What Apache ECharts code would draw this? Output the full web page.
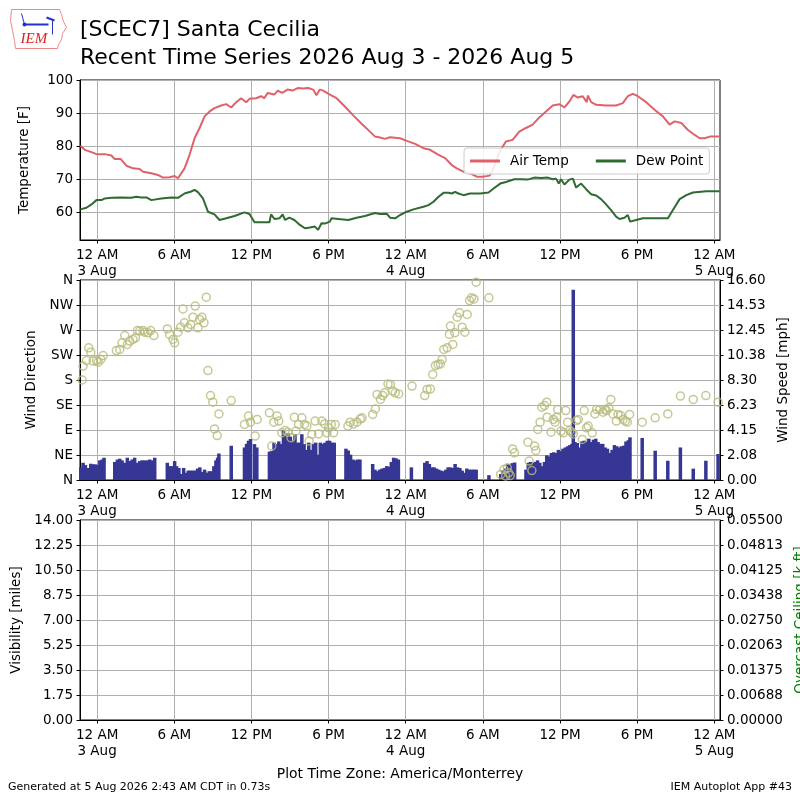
<!DOCTYPE html>
<html>
<head>
<meta charset="utf-8">
<script src="https://cdn.jsdelivr.net/npm/echarts@6/dist/echarts.min.js"></script>
<style>
html,body{margin:0;padding:0;background:#fff;}
#chart{width:800px;height:800px;}
</style>
</head>
<body>
<div id="chart"></div>
<script>
// Times are hours since 2026-08-03 00:00 (America/Monterrey)
const xTickHours = [0, 6, 12, 18, 24, 30, 36, 42, 48];
const tempTicks = [60, 70, 80, 90, 100];
const dirTickLabels = ['N', 'NE', 'E', 'SE', 'S', 'SW', 'W', 'NW', 'N'];
const windSpeedTicks = ['0.00', '2.08', '4.15', '6.23', '8.30', '10.38', '12.45', '14.53', '16.60'];
const visTicks = ['0.00', '1.75', '3.50', '5.25', '7.00', '8.75', '10.50', '12.25', '14.00'];
const ceilingTicks = ['0.00000', '0.00688', '0.01375', '0.02063', '0.02750', '0.03438', '0.04125', '0.04813', '0.05500'];

const airTemp = [
  [-1.3, 80.1], [-0.96, 78.9], [-0.44, 78.2], [-0.05, 77.6], [0.6, 77.6], [1.11, 77.2], [1.37, 76.1], [1.84, 76.1],
  [2.28, 74.1], [2.79, 73.3], [3.31, 73.1], [3.57, 72.3], [4.22, 71.8], [4.73, 71.3], [5.12, 70.5], [5.64, 70.6],
  [6.03, 71.0], [6.29, 70.3], [6.8, 73.3], [7.19, 77.4], [7.58, 82.4], [7.97, 85.5], [8.36, 89.0], [8.75, 90.5],
  [9.13, 91.5], [9.65, 92.3], [10.04, 92.7], [10.43, 91.7], [10.82, 93.3], [11.2, 94.5], [11.59, 93.3], [11.85, 94.3],
  [12.37, 94.5], [12.76, 95.1], [13.0, 94.5], [13.27, 96.1], [13.78, 95.6], [14.05, 96.8], [14.4, 96.1], [14.8, 97.1],
  [15.2, 96.8], [15.64, 97.6], [16.03, 97.4], [16.42, 97.6], [16.8, 97.1], [17.06, 95.4], [17.32, 97.1], [17.58, 96.8],
  [18.0, 95.8], [18.62, 94.5], [19.27, 92.0], [19.92, 89.3], [20.57, 86.8], [21.22, 84.4], [21.61, 82.9], [22.0, 82.6],
  [22.39, 82.2], [22.78, 82.7], [23.56, 82.4], [24.08, 81.6], [24.73, 80.7], [25.38, 79.4], [25.9, 78.9], [26.55, 77.4],
  [27.06, 76.4], [27.58, 74.3], [27.97, 73.3], [28.49, 72.3], [29.0, 71.8], [29.53, 70.8], [30.05, 70.8], [30.52, 71.1],
  [30.83, 73.3], [31.3, 78.3], [31.79, 81.4], [32.31, 81.9], [32.83, 84.4], [33.35, 85.5], [33.87, 86.5], [34.39, 88.7],
  [34.91, 90.5], [35.43, 92.3], [35.95, 92.7], [36.34, 91.7], [36.73, 93.5], [37.04, 95.5], [37.38, 94.7], [37.77, 95.1],
  [38.08, 93.3], [38.16, 95.3], [38.42, 93.3], [38.81, 92.5], [39.58, 92.3], [40.36, 92.3], [40.88, 93.0], [41.27, 95.1],
  [41.66, 95.8], [42.05, 95.1], [42.7, 93.3], [43.35, 91.0], [44.0, 89.0], [44.52, 86.5], [44.91, 87.5], [45.43, 87.0],
  [45.95, 84.9], [46.47, 83.4], [46.86, 82.4], [47.25, 82.4], [47.64, 82.9], [48.42, 82.9]
];

const dewPoint = [
  [-1.3, 60.9], [-0.83, 61.4], [-0.44, 62.4], [-0.05, 63.7], [0.34, 63.7], [0.6, 64.2], [1.11, 64.4], [1.89, 64.5],
  [2.66, 64.4], [3.05, 64.7], [3.44, 64.5], [3.83, 64.5], [4.22, 63.7], [4.99, 64.2], [5.77, 64.5], [6.29, 64.4],
  [6.8, 65.7], [7.32, 66.3], [7.58, 66.8], [7.84, 66.1], [8.23, 64.2], [8.62, 60.2], [9.13, 59.4], [9.52, 57.7],
  [10.04, 58.2], [10.69, 58.9], [11.46, 60.0], [11.85, 59.5], [12.24, 57.0], [12.76, 57.0], [13.4, 57.0], [13.53, 59.4],
  [13.79, 58.0], [14.18, 58.2], [14.43, 59.4], [14.62, 57.7], [14.95, 58.4], [15.34, 57.7], [15.77, 56.2], [16.16, 55.2],
  [16.55, 55.4], [16.94, 55.7], [17.19, 54.7], [17.45, 56.7], [17.71, 56.6], [18.1, 57.2], [18.23, 58.2], [18.75, 58.0],
  [19.53, 57.7], [20.18, 58.4], [20.83, 58.9], [21.61, 59.8], [22.0, 59.5], [22.52, 59.6], [22.78, 58.4], [23.17, 58.2],
  [23.56, 59.2], [24.08, 60.2], [24.6, 60.9], [25.38, 61.7], [25.77, 62.2], [26.16, 63.2], [26.55, 64.7], [26.94, 65.9],
  [27.32, 65.9], [27.58, 65.7], [27.84, 66.2], [28.1, 65.7], [28.49, 65.2], [29.0, 65.7], [29.79, 65.7], [30.44, 66.0],
  [30.83, 67.2], [31.35, 68.7], [31.79, 69.2], [32.44, 70.0], [32.96, 70.0], [33.48, 69.9], [34.0, 70.5], [34.52, 70.4],
  [35.04, 70.5], [35.43, 70.0], [35.69, 70.2], [35.9, 68.7], [36.08, 70.0], [36.34, 68.4], [36.73, 69.9], [37.0, 70.2],
  [37.25, 67.5], [37.64, 68.7], [38.03, 67.0], [38.42, 65.5], [38.81, 65.1], [39.19, 64.0], [39.58, 62.4], [39.97, 60.7],
  [40.36, 58.7], [40.62, 58.0], [41.01, 58.4], [41.27, 59.2], [41.45, 57.2], [41.92, 57.7], [42.44, 58.2], [43.22, 58.2],
  [44.39, 58.2], [44.78, 60.7], [45.3, 64.0], [45.82, 65.2], [46.34, 66.0], [47.38, 66.4], [48.42, 66.4]
];

const windDir = [
  [-1.16, 180], [-1.09, 205], [-0.83, 215], [-0.65, 238], [-0.49, 230], [-0.31, 214], [-0.05, 215], [0.08, 212],
  [0.28, 217], [0.47, 224], [1.5, 233], [1.76, 235], [1.94, 247], [2.15, 260], [2.35, 244], [2.54, 250], [2.79, 253],
  [2.98, 256], [3.13, 269], [3.31, 268], [3.57, 269], [3.7, 266], [3.96, 265], [4.17, 269], [4.42, 260], [5.46, 272],
  [5.64, 262], [5.9, 253], [6.03, 247], [6.29, 266], [6.49, 275], [6.68, 308], [6.8, 283], [7.06, 274], [7.27, 280],
  [7.45, 293], [7.63, 313], [7.84, 274], [7.97, 289], [8.15, 293], [8.31, 283], [8.49, 329], [8.62, 197], [8.82, 152],
  [9.0, 140], [9.13, 92], [9.34, 80], [9.47, 119], [10.43, 143], [11.46, 100], [11.77, 115], [11.93, 104], [12.29, 79],
  [12.45, 109], [13.4, 121], [13.58, 61], [13.74, 104], [14.0, 115], [14.13, 106], [14.36, 85], [14.62, 89], [14.83, 86],
  [15.08, 76], [15.34, 113], [15.47, 88], [15.66, 100], [15.92, 112], [16.13, 100], [16.31, 97], [16.49, 70], [16.7, 82],
  [16.96, 106], [17.22, 83], [17.48, 106], [17.69, 101], [17.87, 85], [18.0, 94], [18.21, 100], [18.39, 85], [18.52, 100],
  [19.5, 97], [19.68, 104], [19.94, 101], [20.21, 104], [20.47, 110], [20.6, 112], [21.43, 118], [21.64, 128], [21.77, 154],
  [22.03, 145], [22.21, 152], [22.36, 157], [22.62, 173], [22.81, 172], [22.99, 160], [23.19, 157], [23.45, 155],
  [24.49, 169], [25.48, 152], [25.66, 163], [25.92, 164], [26.1, 190], [26.31, 206], [26.52, 208], [26.7, 209],
  [26.83, 217], [26.96, 235], [27.22, 238], [27.4, 262], [27.48, 277], [27.66, 244], [27.82, 265], [28.0, 293],
  [28.18, 301], [28.39, 275], [28.6, 266], [28.78, 298], [28.96, 323], [29.12, 328], [29.3, 326], [29.48, 356],
  [30.47, 328], [31.38, 10], [31.64, 19], [31.77, 7], [31.9, 22], [32.0, 13], [32.13, 8], [32.31, 56], [32.46, 49],
  [33.5, 68], [33.6, 34], [33.81, 17], [34.02, 61], [34.12, 53], [34.27, 91], [34.45, 104], [34.58, 131], [34.79, 134],
  [34.97, 140], [35.0, 113], [35.3, 86], [35.48, 109], [35.61, 104], [35.74, 113], [35.82, 127], [36.08, 88], [36.26, 85],
  [36.44, 125], [36.59, 104], [36.77, 89], [36.9, 86], [37.03, 83], [37.29, 107], [37.42, 109], [37.73, 73], [37.88, 125],
  [38.06, 94], [38.19, 97], [38.5, 85], [38.71, 119], [38.84, 127], [39.09, 127], [39.35, 122], [39.48, 127], [39.61, 125],
  [39.79, 130], [39.95, 145], [40.12, 119], [40.38, 106], [40.51, 118], [40.72, 116], [40.9, 109], [41.08, 106],
  [41.23, 104], [41.41, 118], [42.39, 104], [43.4, 112], [44.38, 119], [45.36, 151], [46.36, 145], [47.34, 152], [48.29, 140]
];

const windSpeed = [
  [-1.27, 1.05], [-1.09, 1.43], [-0.91, 1.24], [-0.70, 1.0], [-0.49, 1.35], [-0.31, 1.3], [-0.13, 1.3], [0.03, 1.24],
  [0.21, 1.63], [0.39, 1.7], [0.54, 1.85],
  [1.37, 1.5], [1.58, 1.7], [1.76, 1.77], [1.94, 1.63], [2.15, 1.43], [2.35, 1.85], [2.54, 1.57], [2.72, 1.7], [2.92, 1.85],
  [3.13, 1.43], [3.31, 1.57], [3.49, 1.63], [3.7, 1.63], [3.91, 1.63], [4.09, 1.7], [4.27, 1.63], [4.48, 1.85],
  [5.46, 1.43], [5.64, 1.15], [5.82, 1.15], [6.03, 1.57], [6.18, 1.15], [6.36, 1.0], [6.55, 0.5], [6.73, 1.0], [6.91, 0.6],
  [7.09, 0.78], [7.27, 0.78], [7.45, 0.78], [7.63, 0.78], [7.81, 0.95], [7.99, 1.05], [8.18, 0.67], [8.36, 0.86],
  [8.54, 0.6], [8.72, 0.73], [8.9, 0.73], [9.08, 1.15], [9.24, 1.63], [9.37, 1.85], [9.47, 2.2],
  [10.43, 2.84],
  [11.46, 2.7], [11.62, 3.0], [11.77, 3.26], [11.93, 3.4],
  [12.24, 2.98], [12.42, 2.7],
  [13.4, 2.36], [13.58, 2.4], [13.76, 3.1], [13.95, 2.98], [14.13, 3.2], [14.31, 2.98], [14.49, 4.1], [14.67, 3.82],
  [14.85, 3.88], [15.03, 3.6], [15.21, 3.26], [15.39, 3.82], [15.57, 3.1], [15.75, 3.1], [15.92, 3.8], [16.1, 2.98],
  [16.28, 2.5], [16.46, 3.1], [16.64, 2.5], [16.82, 3.0], [17.0, 3.1], [17.18, 2.1], [17.36, 3.1], [17.54, 3.0],
  [17.72, 3.1], [17.9, 3.26], [18.08, 3.26], [18.26, 3.1], [18.44, 3.1],
  [19.35, 2.6], [19.53, 2.45], [19.71, 2.1], [19.9, 1.7], [20.08, 1.63], [20.26, 1.7], [20.44, 1.7],
  [21.43, 1.33], [21.61, 0.86], [21.79, 0.73], [21.97, 0.86], [22.16, 0.95], [22.34, 1.0], [22.52, 1.15], [22.7, 1.1],
  [22.88, 1.5], [23.06, 1.85], [23.25, 1.8], [23.43, 1.7],
  [24.44, 1.05],
  [25.48, 1.43], [25.66, 1.57], [25.84, 1.33], [26.03, 1.05], [26.21, 1.05], [26.39, 0.95], [26.57, 0.86], [26.75, 0.78],
  [26.94, 0.73], [27.12, 0.86], [27.3, 1.05], [27.48, 1.05], [27.66, 1.0], [27.84, 1.33], [28.03, 1.05], [28.21, 1.0],
  [28.39, 0.78], [28.57, 0.6], [28.75, 0.95], [28.94, 0.86], [29.12, 0.86], [29.3, 0.86], [29.48, 0.86],
  [30.47, 0.4],
  [31.39, 0.5], [31.57, 0.8], [31.75, 0.95], [31.93, 1.3], [32.11, 1.3], [32.29, 1.4], [32.47, 1.45],
  [33.35, 0.86], [33.53, 1.43], [33.71, 1.5], [33.89, 1.43], [34.07, 1.5], [34.25, 1.63], [34.43, 1.43], [34.61, 1.15],
  [34.79, 1.5], [34.97, 2.05], [35.15, 1.96], [35.33, 2.24], [35.51, 2.3], [35.69, 2.24], [35.87, 2.5], [36.05, 2.4],
  [36.23, 2.6], [36.41, 2.7], [36.59, 2.8], [36.77, 2.9], [36.93, 3.0], [37.03, 15.8], [37.16, 3.15], [37.34, 3.07],
  [37.52, 2.7], [37.7, 3.2], [37.88, 3.26], [38.06, 3.2], [38.24, 3.43], [38.42, 3.15], [38.6, 3.35], [38.78, 3.43],
  [38.96, 3.15], [39.14, 3.0], [39.32, 3.0], [39.51, 2.7], [39.69, 2.6], [39.87, 2.24], [40.05, 2.5], [40.23, 2.9],
  [40.41, 2.8], [40.59, 2.7], [40.77, 2.8], [40.95, 2.85], [41.13, 3.2], [41.31, 3.3], [41.44, 3.54],
  [42.39, 3.49], [43.4, 2.43], [44.38, 1.6], [45.36, 2.7], [46.36, 0.94], [47.34, 1.6], [48.29, 2.16]
];

const X_MIN = -1.33, X_MAX = 48.44;
const FONT = 'DejaVu Sans';
const FS = 13.5;

function xLabel(v) {
  const r = Math.round(v);
  const h = ((r % 24) + 24) % 24;
  const day = 3 + Math.floor(r / 24);
  if (h === 0) return '12 AM\n' + day + ' Aug';
  if (h === 6) return '6 AM';
  if (h === 12) return '12 PM';
  return '6 PM';
}

function makeX(gi, withName) {
  const ax = {
    type: 'value', gridIndex: gi, min: X_MIN, max: X_MAX,
    axisLine: { show: true, onZero: false, lineStyle: { color: '#000', width: 1 } },
    axisTick: { show: true, length: 3.5, customValues: xTickHours, lineStyle: { color: '#000' } },
    axisLabel: { customValues: xTickHours, formatter: xLabel, color: '#000', fontFamily: FONT, fontSize: FS, lineHeight: 16, margin: 7 },
    splitLine: { show: true, lineStyle: { color: '#b0b0b0', width: 1 } }
  };
  if (withName) {
    ax.name = 'Plot Time Zone: America/Monterrey';
    ax.nameLocation = 'middle';
    ax.nameGap = 47;
    ax.nameTextStyle = { color: '#000', fontFamily: FONT, fontSize: 13.9 };
  }
  return ax;
}

function makeY(extra) {
  return Object.assign({
    type: 'value',
    axisLine: { show: true, onZero: false, lineStyle: { color: '#000', width: 1 } },
    axisTick: { show: true, length: 3.5, lineStyle: { color: '#000' } },
    splitLine: { show: true, lineStyle: { color: '#b0b0b0', width: 1 } },
    nameLocation: 'middle',
    nameTextStyle: { color: '#000', fontFamily: FONT, fontSize: FS }
  }, extra);
}

const gridCommon = { left: 80, width: 640, show: true, borderColor: '#000', borderWidth: 1, backgroundColor: 'transparent', containLabel: false, outerBoundsMode: 'none' };

const chart = echarts.init(document.getElementById('chart'), null, { renderer: 'canvas' });

chart.setOption({
  animation: false,
  backgroundColor: '#fff',
  textStyle: { fontFamily: FONT },
  title: {
    text: '[SCEC7] Santa Cecilia\nRecent Time Series 2026 Aug 3 - 2026 Aug 5',
    left: 80, top: 17, padding: 0,
    textStyle: { fontFamily: FONT, fontSize: 22, fontWeight: 'normal', color: '#000', lineHeight: 27.5 }
  },
  legend: {
    data: ['Air Temp', 'Dew Point'],
    left: 464, top: 148,
    orient: 'horizontal',
    icon: 'rect',
    itemWidth: 30, itemHeight: 3, itemGap: 27,
    padding: [6, 6, 6, 6],
    backgroundColor: 'rgba(255,255,255,0.85)',
    borderColor: '#cccccc', borderWidth: 1, borderRadius: 3,
    textStyle: { fontFamily: FONT, fontSize: FS, color: '#000', padding: [0, 0, 0, 5] }
  },
  grid: [
    Object.assign({ top: 80, height: 160 }, gridCommon),
    Object.assign({ top: 280, height: 200 }, gridCommon),
    Object.assign({ top: 520, height: 200 }, gridCommon)
  ],
  xAxis: [makeX(0, false), makeX(1, false), makeX(2, true)],
  yAxis: [
    makeY({
      gridIndex: 0, min: 51.65, max: 100, name: 'Temperature [F]', nameGap: 49,
      axisTick: { show: true, length: 3.5, customValues: tempTicks, lineStyle: { color: '#000' } },
      axisLabel: { customValues: tempTicks, color: '#000', fontFamily: FONT, fontSize: FS, margin: 7 }
    }),
    makeY({
      gridIndex: 1, min: 0, max: 360, interval: 45, name: 'Wind Direction', nameGap: 41,
      axisLabel: { color: '#000', fontFamily: FONT, fontSize: FS, margin: 7,
        formatter: v => dirTickLabels[Math.round(v / 45)] }
    }),
    makeY({
      gridIndex: 1, position: 'right', min: 0, max: 16.6, interval: 2.075, name: 'Wind Speed [mph]', nameGap: 55, nameRotate: 90,
      splitLine: { show: false },
      axisLabel: { color: '#000', fontFamily: FONT, fontSize: FS, margin: 7,
        formatter: v => windSpeedTicks[Math.round(v / 2.075)] }
    }),
    makeY({
      gridIndex: 2, min: 0, max: 14, interval: 1.75, name: 'Visibility [miles]', nameGap: 49,
      axisLabel: { color: '#000', fontFamily: FONT, fontSize: FS, margin: 7,
        formatter: v => visTicks[Math.round(v / 1.75)] }
    }),
    makeY({
      gridIndex: 2, position: 'right', min: 0, max: 0.055, interval: 0.006875, name: 'Overcast Ceiling [k ft]', nameGap: 73, nameRotate: 90,
      nameTextStyle: { color: '#008000', fontFamily: FONT, fontSize: FS },
      splitLine: { show: false },
      axisLabel: { color: '#000', fontFamily: FONT, fontSize: FS, margin: 7,
        formatter: v => ceilingTicks[Math.round(v / 0.006875)] }
    })
  ],
  series: [
    {
      name: 'Air Temp', type: 'line', xAxisIndex: 0, yAxisIndex: 0, data: airTemp,
      showSymbol: false, symbol: 'none', clip: true,
      lineStyle: { color: '#e0616a', width: 2 }, itemStyle: { color: '#e0616a' }, z: 3
    },
    {
      name: 'Dew Point', type: 'line', xAxisIndex: 0, yAxisIndex: 0, data: dewPoint,
      showSymbol: false, symbol: 'none', clip: true,
      lineStyle: { color: '#2f6a31', width: 2 }, itemStyle: { color: '#2f6a31' }, z: 3
    },
    {
      name: 'Wind Speed', type: 'bar', xAxisIndex: 1, yAxisIndex: 2, data: windSpeed,
      barWidth: 3.5, large: false, itemStyle: { color: '#363694', borderWidth: 0 }, z: 2
    },
    {
      name: 'Wind Direction', type: 'scatter', xAxisIndex: 1, yAxisIndex: 1, data: windDir,
      symbol: 'circle', symbolSize: 8, clip: true,
      itemStyle: { color: 'rgba(0,0,0,0)', borderColor: '#b8ba7b', borderWidth: 1.5 }, z: 4
    }
  ],
  graphic: [
    {
      type: 'group', left: 8, top: 7,
      children: [
        { type: 'polyline', shape: { points: [[1, 2], [49, 2], [51, 7], [53, 14], [56, 20], [52, 26], [51, 32], [48, 37], [47, 41], [5, 41], [4, 33], [2, 23], [0, 13], [1, 2]] },
          style: { stroke: '#ee8888', fill: 'none', lineWidth: 1 } },
        { type: 'line', shape: { x1: 14, y1: 17, x2: 38, y2: 17 }, style: { stroke: '#2233cc', lineWidth: 2 } },
        { type: 'line', shape: { x1: 11, y1: 6, x2: 14, y2: 17 }, style: { stroke: '#2233cc', lineWidth: 1 } },
        { type: 'line', shape: { x1: 36, y1: 10, x2: 44, y2: 13 }, style: { stroke: '#2233cc', lineWidth: 2 } },
        { type: 'line', shape: { x1: 42, y1: 13, x2: 42, y2: 27 }, style: { stroke: '#2233cc', lineWidth: 1 } },
        { type: 'circle', shape: { cx: 14, cy: 17, r: 2 }, style: { fill: '#2233cc' } },
        { type: 'text', x: 10, y: 24, style: { text: 'IEM', fill: '#dd2222', font: 'italic 15px "Liberation Serif", serif' } }
      ]
    },
    { type: 'text', left: 8, top: 782, style: { text: 'Generated at 5 Aug 2026 2:43 AM CDT in 0.73s', fill: '#000', font: '11px "DejaVu Sans"' } },
    { type: 'text', right: 8, top: 782, style: { text: 'IEM Autoplot App #43', fill: '#000', font: '11px "DejaVu Sans"' } }
  ]
});
</script>
</body>
</html>
